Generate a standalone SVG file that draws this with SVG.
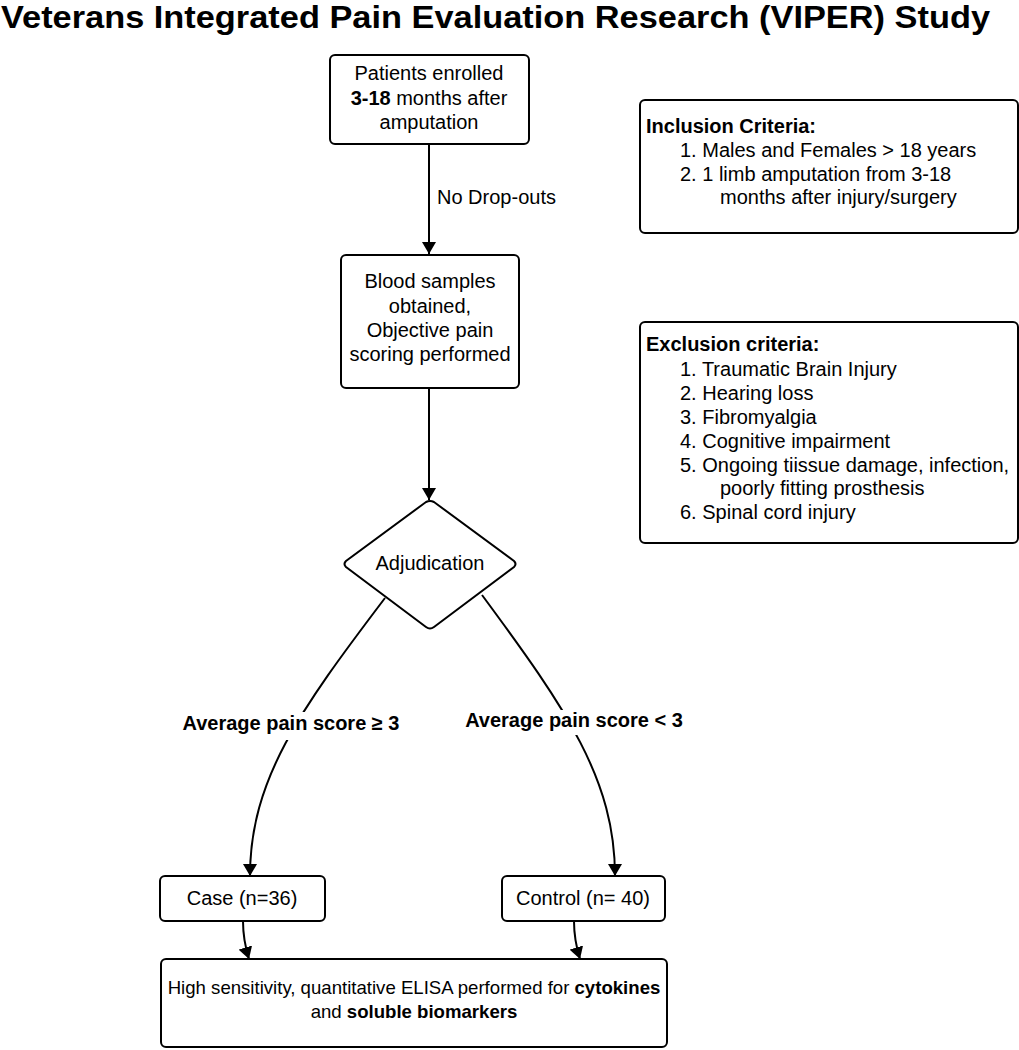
<svg xmlns="http://www.w3.org/2000/svg" width="1019" height="1050" viewBox="0 0 1019 1050">
<style>
.box{fill:#fff;stroke:#000;stroke-width:2}
.t{font-family:"Liberation Sans",Arial,sans-serif;font-size:20px;fill:#000}
.c{text-anchor:middle}
.b{font-weight:bold}
.edge{fill:none;stroke:#000;stroke-width:2}
</style>
<defs>
<marker id="ah" markerWidth="12" markerHeight="14" refX="12" refY="7" orient="auto" markerUnits="userSpaceOnUse">
<path d="M0,0 L12,7 L0,14 Z" fill="#000"/>
</marker>
</defs>
<rect width="1019" height="1050" fill="#fff"/>
<text x="1" y="28" class="t b" style="font-size:32px" textLength="989" lengthAdjust="spacingAndGlyphs">Veterans Integrated Pain Evaluation Research (VIPER) Study</text>

<g id="connectors">
<line x1="429" y1="144" x2="429" y2="254" class="edge" marker-end="url(#ah)"/>
<text x="437" y="204" class="t">No Drop-outs</text>
<line x1="429" y1="388" x2="429" y2="500" class="edge" marker-end="url(#ah)"/>
<path d="M385,598 C300,710 250,780 250,876" class="edge" marker-end="url(#ah)"/>
<path d="M482,595 C567,710 615,780 615,876" class="edge" marker-end="url(#ah)"/>
<rect x="178" y="712" width="228" height="28" fill="#fff"/>
<rect x="463" y="710" width="224" height="25" fill="#fff"/>
<text x="291" y="730" class="t b c">Average pain score ≥ 3</text>
<text x="574" y="727" class="t b c">Average pain score &lt; 3</text>
<path d="M243,921 Q243,940 249,959" class="edge" marker-end="url(#ah)"/>
<path d="M574,921 Q574,940 580,959" class="edge" marker-end="url(#ah)"/>
</g>

<g id="n-enrolled">
<rect x="330" y="55" width="199" height="89" rx="5" class="box"/>
<text x="429" y="80" class="t c">Patients enrolled</text>
<text x="429" y="105" class="t c"><tspan class="b">3-18</tspan> months after</text>
<text x="429" y="129" class="t c">amputation</text>
</g>

<g id="n-blood">
<rect x="341" y="255" width="178" height="133" rx="5" class="box"/>
<text x="430" y="288" class="t c">Blood samples</text>
<text x="430" y="313" class="t c">obtained,</text>
<text x="430" y="337" class="t c">Objective pain</text>
<text x="430" y="361" class="t c">scoring performed</text>
</g>

<g id="n-adjudication">
<path d="M426,502 Q430,500 434,502 L514,561 Q517,564 514,567 L434,627 Q430,630 426,627 L346,567 Q343,564 346,561 Z" class="box"/>
<text x="430" y="570" class="t c">Adjudication</text>
</g>

<g id="n-inclusion">
<rect x="640" y="100" width="378" height="133" rx="5" class="box"/>
<text x="646" y="133" class="t b">Inclusion Criteria:</text>
<text x="680" y="157" class="t">1. Males and Females &gt; 18 years</text>
<text x="680" y="181" class="t">2. 1 limb amputation from 3-18</text>
<text x="720" y="204" class="t">months after injury/surgery</text>
</g>

<g id="n-exclusion">
<rect x="640" y="322" width="378" height="221" rx="5" class="box"/>
<text x="646" y="351" class="t b">Exclusion criteria:</text>
<text x="680" y="376" class="t">1. Traumatic Brain Injury</text>
<text x="680" y="400" class="t">2. Hearing loss</text>
<text x="680" y="424" class="t">3. Fibromyalgia</text>
<text x="680" y="448" class="t">4. Cognitive impairment</text>
<text x="680" y="472" class="t">5. Ongoing tiissue damage, infection,</text>
<text x="720" y="495" class="t">poorly fitting prosthesis</text>
<text x="680" y="519" class="t">6. Spinal cord injury</text>
</g>

<g id="n-case">
<rect x="160" y="876" width="165" height="45" rx="5" class="box"/>
<text x="242" y="905" class="t c">Case (n=36)</text>
</g>

<g id="n-control">
<rect x="502" y="876" width="163" height="45" rx="5" class="box"/>
<text x="583" y="905" class="t c">Control (n= 40)</text>
</g>

<g id="n-elisa">
<rect x="161" y="959" width="506" height="88" rx="5" class="box"/>
<text x="414" y="994" class="t c" style="font-size:18.6px">High sensitivity, quantitative ELISA performed for <tspan class="b">cytokines</tspan></text>
<text x="414" y="1018" class="t c" style="font-size:18.6px">and <tspan class="b">soluble biomarkers</tspan></text>
</g>
</svg>
